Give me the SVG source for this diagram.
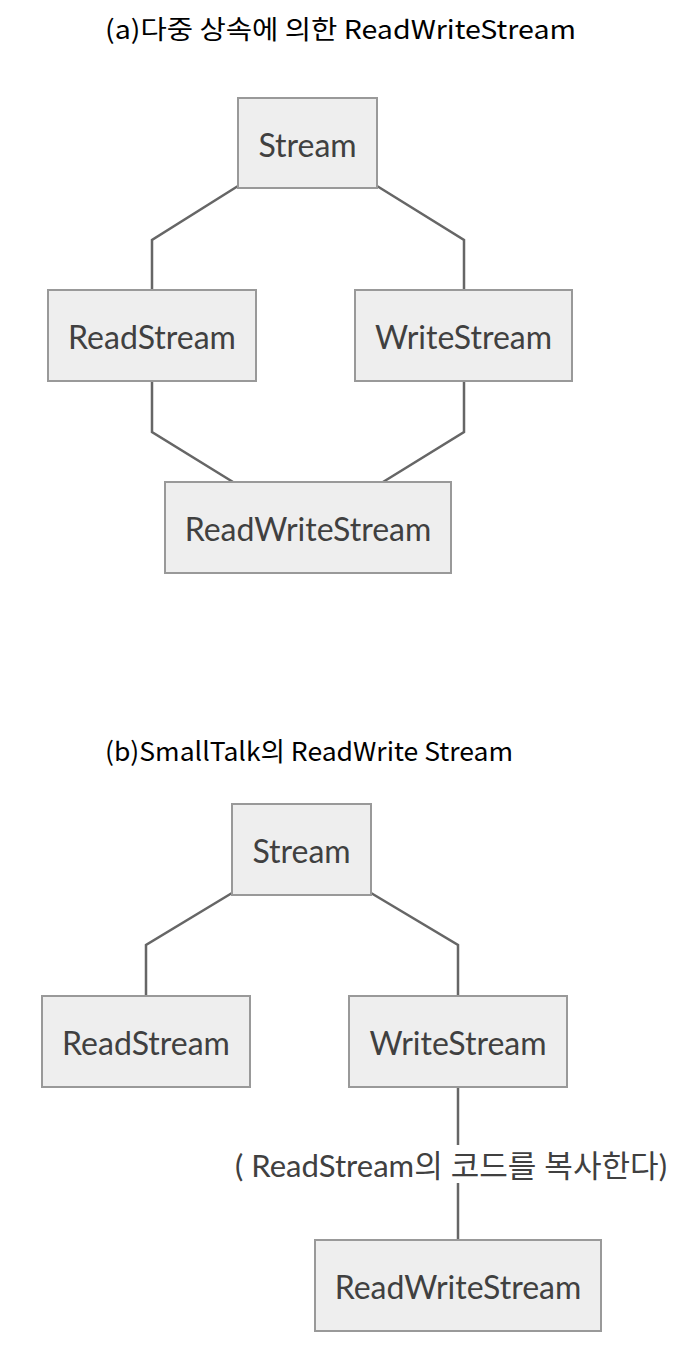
<svg xmlns="http://www.w3.org/2000/svg" width="684" height="1362" viewBox="0 0 684 1362">
<style>
.box{fill:#eeeeee;stroke:#999999;stroke-width:2}
.lbl{font-family:Lato,"Noto Sans","Noto Sans CJK KR",sans-serif;font-size:32px;fill:#404040;text-anchor:middle;dominant-baseline:central}
.title{font-family:"Noto Sans CJK KR","Noto Sans",sans-serif;font-size:26px;fill:#000000;text-anchor:middle}
.edge{fill:none;stroke:#666666;stroke-width:2.5}
.note{font-family:Lato,"Noto Sans CJK KR",sans-serif;font-size:31px;fill:#404040;text-anchor:middle;dominant-baseline:central}
</style>
<rect width="684" height="1362" fill="#ffffff"/>
<text class="title" x="340.5" y="39" textLength="471" lengthAdjust="spacingAndGlyphs">(a)다중 상속에 의한 ReadWriteStream</text>
<text class="title" x="309" y="761" textLength="408" lengthAdjust="spacingAndGlyphs">(b)SmallTalk의 ReadWrite Stream</text>
<g id="connectors">
<path class="edge" d="M238,186 L152,240 L152,290"/>
<path class="edge" d="M377,186 L464,240 L464,290"/>
<path class="edge" d="M152,381 L152,432 L233,482"/>
<path class="edge" d="M464,381 L464,432 L383,482"/>
<path class="edge" d="M232,893 L146,945 L146,996"/>
<path class="edge" d="M371,893 L458,945 L458,996"/>
<path class="edge" d="M458,1087 L458,1145"/>
<path class="edge" d="M458,1183 L458,1240"/>
</g>
<g id="a-stream"><rect class="box" x="238" y="98" width="139" height="90"/><text class="lbl" x="307.5" y="144">Stream</text></g>
<g id="a-readstream"><rect class="box" x="48" y="290" width="208" height="91"/><text class="lbl" x="152" y="336">ReadStream</text></g>
<g id="a-writestream"><rect class="box" x="355" y="290" width="217" height="91"/><text class="lbl" x="463.5" y="336">WriteStream</text></g>
<g id="a-readwritestream"><rect class="box" x="165" y="482" width="286" height="91"/><text class="lbl" x="308" y="528">ReadWriteStream</text></g>
<g id="b-stream"><rect class="box" x="232" y="804" width="139" height="91"/><text class="lbl" x="301.5" y="850">Stream</text></g>
<g id="b-readstream"><rect class="box" x="42" y="996" width="208" height="91"/><text class="lbl" x="146" y="1042">ReadStream</text></g>
<g id="b-writestream"><rect class="box" x="349" y="996" width="218" height="91"/><text class="lbl" x="458" y="1042">WriteStream</text></g>
<g id="b-readwritestream"><rect class="box" x="315" y="1240" width="286" height="91"/><text class="lbl" x="458" y="1286">ReadWriteStream</text></g>
<g id="b-note"><text class="note" x="451" y="1165" textLength="432" lengthAdjust="spacingAndGlyphs">( ReadStream의 코드를 복사한다)</text></g>
</svg>
